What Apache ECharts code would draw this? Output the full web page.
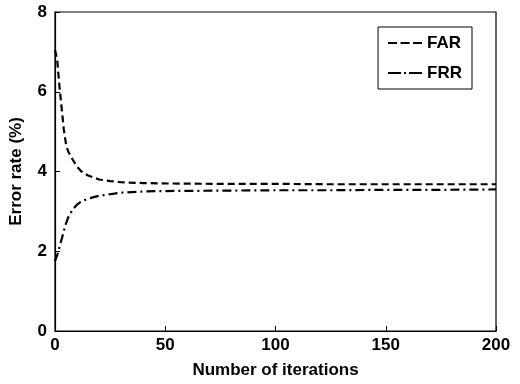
<!DOCTYPE html>
<html>
<head>
<meta charset="utf-8">
<script src="https://cdn.jsdelivr.net/npm/echarts@6/dist/echarts.min.js"></script>
<style>
  html, body { margin: 0; padding: 0; background: #fff; }
  #chart { width: 520px; height: 384px; }
</style>
</head>
<body>
<div id="chart"></div>
<script>
const iterations = [0, 1, 2, 3, 4, 5, 6, 8, 10, 12, 15, 20, 25, 30, 40, 50, 75, 100, 125, 150, 175, 200]
const far = [7.05, 6.8, 6.15, 5.6, 5.05, 4.68, 4.5, 4.3, 4.12, 4.0, 3.9, 3.8, 3.76, 3.73, 3.71, 3.7, 3.69, 3.69, 3.68, 3.68, 3.68, 3.68]
const frr = [1.75, 1.9, 2.1, 2.3, 2.5, 2.7, 2.85, 3.05, 3.17, 3.25, 3.32, 3.39, 3.43, 3.47, 3.5, 3.51, 3.52, 3.53, 3.53, 3.54, 3.54, 3.55]

const FONT = '"Liberation Sans", Arial, sans-serif'
// legend swatches drawn as little dash patterns (34 x 2 units)
const DASH_ICON = 'path://M0,0h9v2h-9z M12.5,0h9v2h-9z M25,0h9v2h-9z'
const DASHDOT_ICON = 'path://M0,0h13v2h-13z M16,0h2v2h-2z M21,0h13v2h-13z'

const chart = echarts.init(document.getElementById('chart'), null, { renderer: 'canvas' })

chart.setOption({
  animation: false,
  grid: { left: 50, right: 24, top: 12, bottom: 51, show: true, borderColor: '#000', borderWidth: 1.2, backgroundColor: 'transparent' },
  legend: {
    orient: 'vertical', right: 48, top: 27,
    padding: [6, 10, 6, 10], itemGap: 10,
    itemWidth: 34, itemHeight: 2.5,
    borderColor: '#000', borderWidth: 1,
    textStyle: { color: '#000', fontFamily: FONT, fontSize: 17, fontWeight: 'bold', lineHeight: 20 },
    data: [
      { name: 'FAR', icon: DASH_ICON },
      { name: 'FRR', icon: DASHDOT_ICON },
    ],
  },
  xAxis: {
    type: 'value', min: 0, max: 200, interval: 50,
    name: 'Number of iterations', nameLocation: 'middle', nameGap: 31,
    nameTextStyle: { color: '#000', fontFamily: FONT, fontSize: 17, fontWeight: 'bold' },
    axisLine: { show: true, lineStyle: { color: '#000', width: 1.2 } },
    axisTick: { show: true, inside: true, length: 5, lineStyle: { color: '#000' } },
    axisLabel: { color: '#000', fontFamily: FONT, fontSize: 17, fontWeight: 'bold', margin: 6 },
    splitLine: { show: false },
  },
  yAxis: {
    type: 'value', min: 0, max: 8, interval: 2,
    name: 'Error rate (%)', nameLocation: 'middle', nameGap: 30,
    nameTextStyle: { color: '#000', fontFamily: FONT, fontSize: 17, fontWeight: 'bold' },
    axisLine: { show: true, lineStyle: { color: '#000', width: 1.2 } },
    axisTick: { show: true, inside: true, length: 5, lineStyle: { color: '#000' } },
    axisLabel: { color: '#000', fontFamily: FONT, fontSize: 17, fontWeight: 'bold', margin: 8 },
    splitLine: { show: false },
  },
  series: [
    {
      name: 'FAR', type: 'line', symbol: 'none',
      data: iterations.map((x, i) => [x, far[i]]),
      lineStyle: { color: '#000', width: 2.2, type: [7, 4] },
      itemStyle: { color: '#000' },
    },
    {
      name: 'FRR', type: 'line', symbol: 'none',
      data: iterations.map((x, i) => [x, frr[i]]),
      lineStyle: { color: '#000', width: 2.2, type: [9, 4, 2, 4] },
      itemStyle: { color: '#000' },
    },
  ],
})
</script>
</body>
</html>
